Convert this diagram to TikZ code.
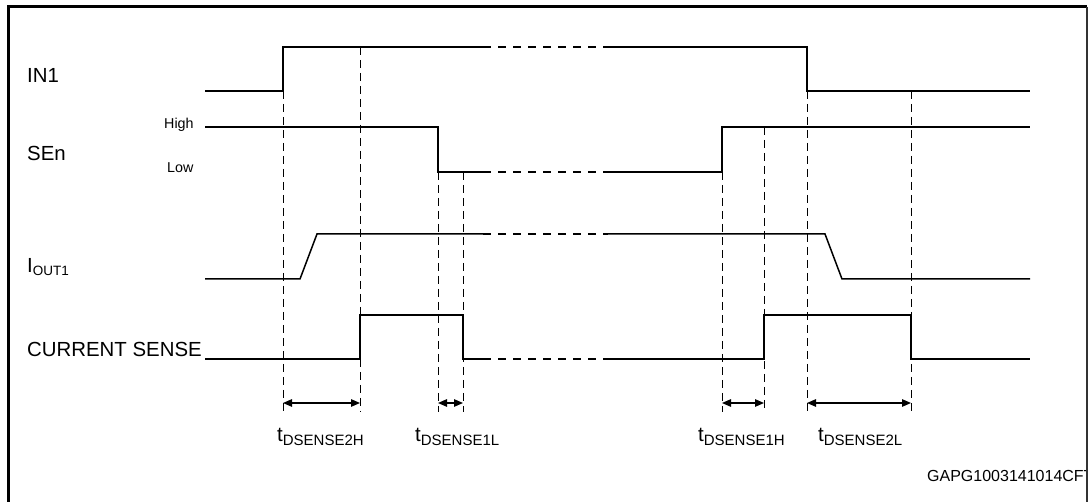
\documentclass[tikz,border=0pt]{standalone}
\usepackage{fontspec}
\setmainfont{Liberation Sans}
\usetikzlibrary{arrows.meta}
\begin{document}
\begin{tikzpicture}[x=1pt,y=-1pt,
  wave/.style={line width=1.5pt,line join=miter},
  brk/.style={line width=1.5pt,dash pattern=on 8pt off 7pt},
  guide/.style={line width=1pt,dash pattern=on 8pt off 5pt},
  tarrow/.style={line width=1.3pt,{Triangle[length=9pt,width=7.5pt]}-{Triangle[length=9pt,width=7.5pt]}},
  siglbl/.style={anchor=base west,inner sep=0pt,font=\fontsize{20.4}{20.4}\selectfont},
  lvl/.style={anchor=base west,inner sep=0pt,font=\fontsize{14.3}{14.3}\selectfont},
  tlbl/.style={anchor=base west,inner sep=0pt,font=\fontsize{20.5}{20.5}\selectfont},
  idlbl/.style={anchor=base west,inner sep=0pt,font=\fontsize{16}{16}\selectfont}]
\useasboundingbox (0,0) rectangle (1088,502);
\fill[white] (0,0) rectangle (1088,502);
% frame
\draw[line width=3pt] (8,510) -- (8,7) -- (1087,7);
% labels
\node[siglbl] (in1) at (27,83) {IN1};
\node[siglbl] (sen) at (27,161) {SEn};
\node[siglbl] (iout) at (27,273) {I\raisebox{-2.5pt}{\fontsize{13.5}{13.5}\selectfont OUT1}};
\node[siglbl] (cs) at (27,357) {CURRENT SENSE};
\node[lvl] (high) at (164,129) {High};
\node[lvl] (low) at (167,173) {Low};
% IN1
\draw[wave] (205,91) -- (283,91) -- (283,47) -- (483,47);
\draw[brk] (483,47) -- (608,47);
\draw[wave] (608,47) -- (807,47) -- (807,91) -- (1030,91);
% SEn
\draw[wave] (205,127) -- (438,127) -- (438,172) -- (483,172);
\draw[brk] (483,172) -- (608,172);
\draw[wave] (608,172) -- (722,172) -- (722,127) -- (1030,127);
% IOUT1
\draw[wave] (205,279) -- (300,279) -- (317,234) -- (483,234);
\draw[brk] (483,234) -- (608,234);
\draw[wave] (608,234) -- (825,234) -- (842,279) -- (1030,279);
% CURRENT SENSE
\draw[wave] (205,359) -- (360,359) -- (360,315) -- (463,315) -- (463,359) -- (483,359);
\draw[brk] (483,359) -- (608,359);
\draw[wave] (608,359) -- (764,359) -- (764,315) -- (911,315) -- (911,359) -- (1030,359);
% guide lines
\coordinate (atop) at (283,91);  \coordinate (abot) at (283,412); \coordinate (aarr) at (283,403);
\coordinate (btop) at (360,47);  \coordinate (bbot) at (360,412); \coordinate (barr) at (360,403);
\coordinate (ctop) at (438,172); \coordinate (cbot) at (438,412); \coordinate (carr) at (438,403);
\coordinate (dtop) at (463,172); \coordinate (dbot) at (463,412); \coordinate (darr) at (463,403);
\coordinate (etop) at (722,172); \coordinate (ebot) at (722,412); \coordinate (earr) at (722,403);
\coordinate (ftop) at (764,127); \coordinate (fbot) at (764,412); \coordinate (farr) at (764,403);
\coordinate (gtop) at (807,91);  \coordinate (gbot) at (807,412); \coordinate (garr) at (807,403);
\coordinate (htop) at (911,91);  \coordinate (hbot) at (911,412); \coordinate (harr) at (911,403);
\draw[guide] (atop) -- (abot);
\draw[guide] (btop) -- (bbot);
\draw[guide] (ctop) -- (cbot);
\draw[guide] (dtop) -- (dbot);
\draw[guide] (etop) -- (ebot);
\draw[guide] (ftop) -- (fbot);
\draw[guide] (gtop) -- (gbot);
\draw[guide] (htop) -- (hbot);
% timing arrows
\draw[tarrow] (aarr) -- (barr);
\draw[tarrow] (carr) -- (darr);
\draw[tarrow] (earr) -- (farr);
\draw[tarrow] (garr) -- (harr);
\node[tlbl] (t1) at (277,442) {t\raisebox{-3.5pt}{\fontsize{15}{15}\selectfont DSENSE2H}};
\node[tlbl] (t2) at (415,442) {t\raisebox{-3.5pt}{\fontsize{15}{15}\selectfont DSENSE1L}};
\node[tlbl] (t3) at (698,442) {t\raisebox{-3.5pt}{\fontsize{15}{15}\selectfont DSENSE1H}};
\node[tlbl] (t4) at (818,442) {t\raisebox{-3.5pt}{\fontsize{15}{15}\selectfont DSENSE2L}};
\node[idlbl] (gid) at (927,482) {GAPG1003141014CFT};
\fill[white] (1088,20) rectangle (1087.5,502);
\draw[line width=2pt,black!80] (1087,7) -- (1087,510);
\end{tikzpicture}
\end{document}
